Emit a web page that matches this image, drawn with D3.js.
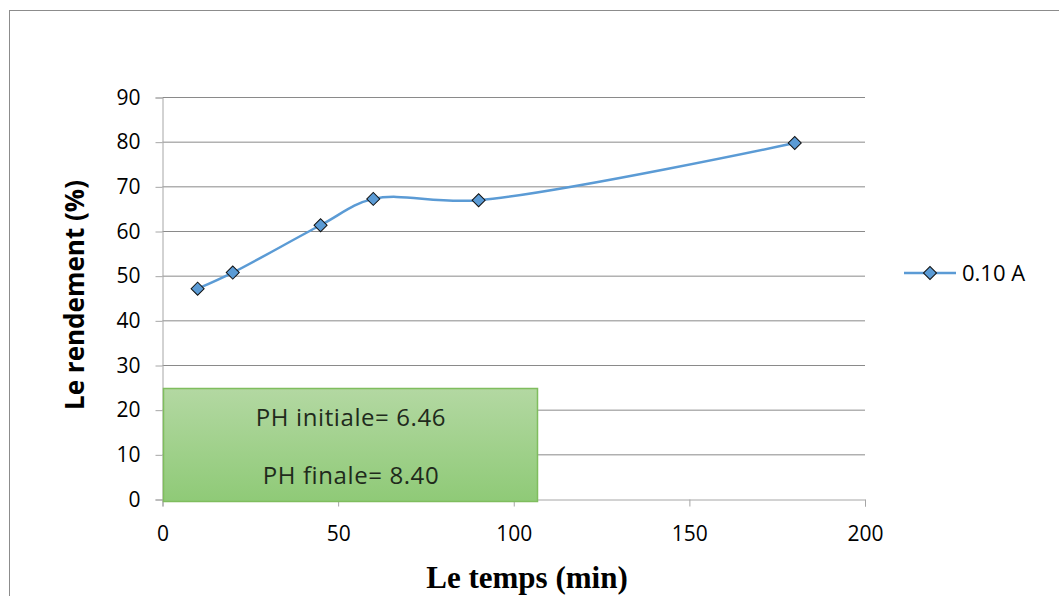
<!DOCTYPE html>
<html><head><meta charset="utf-8">
<script src="https://cdn.jsdelivr.net/npm/d3@7"></script>
<style>
html,body{margin:0;padding:0;background:#fff;}
svg{display:block;}
</style></head>
<body>
<svg id="chart" width="1059" height="596"></svg>
<script>
const seriesName = "0.10 A";
const timeValues = [10, 20, 45, 60, 90, 180];
const yieldValues = [47.2, 50.8, 61.4, 67.3, 67.0, 79.8];
const xTicks = [0, 50, 100, 150, 200];
const yTicks = [0, 10, 20, 30, 40, 50, 60, 70, 80, 90];
const xTitle = "Le temps (min)";
const yTitle = "Le rendement (%)";
const noteLines = ["PH initiale= 6.46", "PH finale= 8.40"];

const svg = d3.select("#chart");
const x = d3.scaleLinear().domain([0, 200]).range([162.5, 865]);
const y = d3.scaleLinear().domain([0, 90]).range([499.5, 97.5]);

// outer frame
svg.append("rect").attr("x", 9.5).attr("y", 10.5).attr("width", 1060).attr("height", 600)
  .attr("fill", "none").attr("stroke", "#8c8c8c").attr("stroke-width", 1);

const defs = svg.append("defs");
const grad = defs.append("linearGradient").attr("id", "g").attr("x1", 0).attr("y1", 0).attr("x2", 0).attr("y2", 1);
grad.append("stop").attr("offset", "0%").attr("stop-color", "#b3d8a2");
grad.append("stop").attr("offset", "100%").attr("stop-color", "#8fca77");

// gridlines
svg.append("g").selectAll("line").data(yTicks.filter(d => d > 0)).join("line")
  .attr("x1", x(0)).attr("x2", x(200)).attr("y1", d => y(d)).attr("y2", d => y(d))
  .attr("stroke", "#8a8a8a").attr("stroke-width", 1);

// y axis
const yAxis = svg.append("g").attr("transform", `translate(${x(0)},0)`)
  .call(d3.axisLeft(y).tickValues(yTicks).tickSize(7).tickPadding(15));
yAxis.select(".domain").attr("stroke", "#a6a6a6");
yAxis.selectAll(".tick line").attr("stroke", "#a6a6a6");
yAxis.selectAll("text").attr("font-family", "Open Sans, sans-serif").attr("font-size", 21).attr("fill", "#000");

// x axis
const xAxis = svg.append("g").attr("transform", `translate(0,${y(0)})`)
  .call(d3.axisBottom(x).tickValues(xTicks).tickSize(7).tickPadding(20));
xAxis.select(".domain").attr("stroke", "#a6a6a6");
xAxis.selectAll(".tick line").attr("stroke", "#a6a6a6");
xAxis.selectAll("text").attr("font-family", "Open Sans, sans-serif").attr("font-size", 21).attr("fill", "#000");

// note box
svg.append("rect").attr("x", 163.5).attr("y", 388.5).attr("width", 374).attr("height", 113)
  .attr("fill", "url(#g)").attr("stroke", "#7fbd5e").attr("stroke-width", 1.5);
svg.append("g").selectAll("text").data(noteLines).join("text")
  .attr("x", 351).attr("y", (d, i) => 426 + i * 58)
  .attr("text-anchor", "middle").attr("font-family", "Open Sans, sans-serif").attr("font-size", 24)
  .attr("letter-spacing", 0.6)
  .attr("fill", "#1f2a1c").text(d => d);

// line
const pts = timeValues.map((t, i) => [t, yieldValues[i]]);
const line = d3.line().x(d => x(d[0])).y(d => y(d[1])).curve(d3.curveCatmullRom.alpha(0.5));
svg.append("path").datum(pts).attr("d", line).attr("fill", "none")
  .attr("stroke", "#5b9bd5").attr("stroke-width", 2.5);

const diamond = d3.symbol().type(d3.symbolSquare).size(85);
svg.append("g").selectAll("path").data(pts).join("path")
  .attr("d", diamond)
  .attr("transform", d => `translate(${x(d[0])},${y(d[1])}) rotate(45)`)
  .attr("fill", "#5b9bd5").attr("stroke", "#111").attr("stroke-width", 1);

// legend
const ly = 273;
svg.append("line").attr("x1", 904).attr("x2", 956).attr("y1", ly).attr("y2", ly)
  .attr("stroke", "#5b9bd5").attr("stroke-width", 2.5);
svg.append("path").attr("d", diamond).attr("transform", `translate(930,${ly}) rotate(45)`)
  .attr("fill", "#5b9bd5").attr("stroke", "#111").attr("stroke-width", 1);
svg.append("text").attr("x", 962).attr("y", ly + 8).attr("font-family", "Open Sans, sans-serif")
  .attr("font-size", 22).attr("fill", "#000").text(seriesName);

// axis titles
svg.append("text").attr("transform", "translate(84,295) rotate(-90)").attr("text-anchor", "middle")
  .attr("font-family", "Open Sans, sans-serif").attr("font-weight", "bold").attr("font-size", 26)
  .attr("fill", "#000").text(yTitle);
svg.append("text").attr("x", 527).attr("y", 588).attr("text-anchor", "middle")
  .attr("font-family", "Liberation Serif, serif").attr("font-weight", "bold").attr("font-size", 31)
  .attr("fill", "#000").text(xTitle);
</script>
</body></html>
